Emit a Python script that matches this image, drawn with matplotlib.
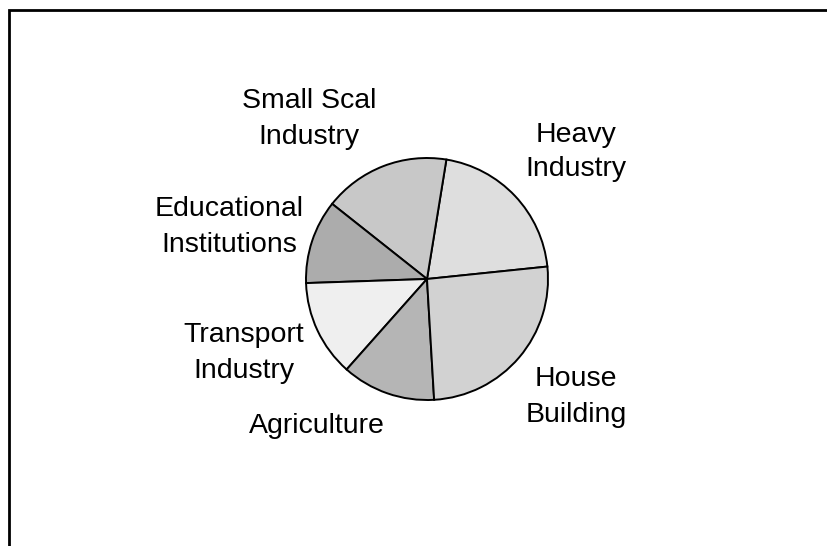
import matplotlib.pyplot as plt
from matplotlib.patches import Rectangle

plt.rcParams['font.family'] = ['Liberation Sans', 'DejaVu Sans']

# slices, counterclockwise starting just above the 3 o'clock position
sectors = ['Heavy\nIndustry', 'Small Scal\nIndustry', 'Educational\nInstitutions',
           'Transport\nIndustry', 'Agriculture', 'House\nBuilding']
shares = [20.8, 16.9, 11.2, 12.9, 12.5, 25.7]
shades = ['#dedede', '#c8c8c8', '#acacac', '#efefef', '#b5b5b5', '#d2d2d2']

# label centres in pixels (x from left, y from top)
label_pos = [(576, 152), (309, 119), (229, 227), (244, 353), (317, 426), (576, 397)]

W, H = 827, 546
fig = plt.figure(figsize=(W / 100, H / 100), dpi=100)
ax = fig.add_axes([0, 0, 1, 1])

cx, cy, r = 427, H - 279, 121
ax.pie(shares, colors=shades, startangle=5.9, counterclock=True,
       center=(cx, cy), radius=r,
       wedgeprops=dict(edgecolor='black', linewidth=1.4))

for text, (x, y) in zip(sectors, label_pos):
    ax.text(x, H - y, text, ha='center', va='center', fontsize=20.5,
            linespacing=1.45, color='black')

ax.add_patch(Rectangle((9, -20), W + 20, H - 10 + 20, fill=False,
                       edgecolor='black', linewidth=2))

ax.set_xlim(0, W)
ax.set_ylim(0, H)
ax.set_aspect('equal')
ax.axis('off')

fig.savefig('out.png', dpi=100)
